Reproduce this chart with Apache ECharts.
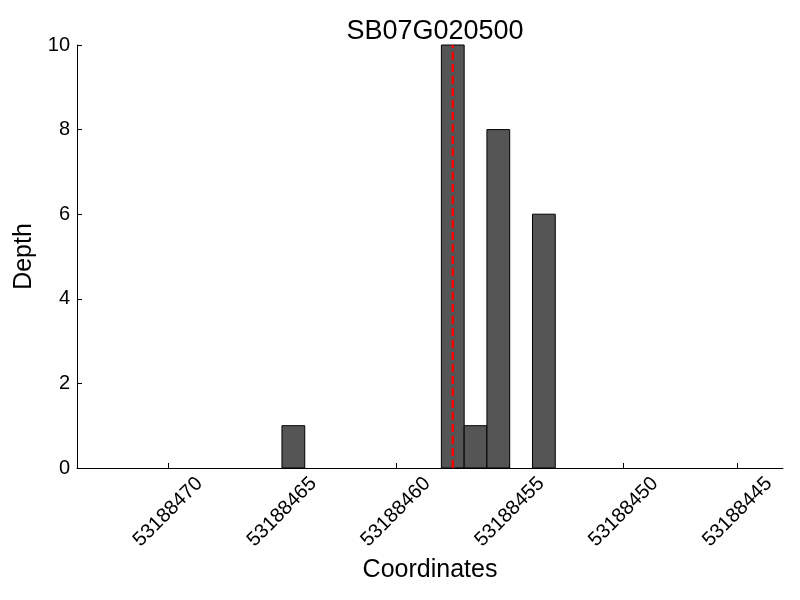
<!DOCTYPE html>
<html>
<head>
<meta charset="utf-8">
<script src="https://cdn.jsdelivr.net/npm/echarts@6/dist/echarts.min.js"></script>
<style>
  html, body { margin: 0; padding: 0; background: #fff; }
</style>
</head>
<body>
<div id="main" style="width: 800px; height: 600px"></div>
<script>
// bar start coordinates (each bar spans one base: start .. start+1)
const positions = [53188464, 53188457, 53188456, 53188455, 53188453];
const depths = [1, 10, 1, 8, 6];
const xTicks = [53188470, 53188465, 53188460, 53188455, 53188450, 53188445];
const markerPos = 53188457.5;
const markerRange = [0, 10];

const font = "Liberation Sans";
const barData = positions.map((p, i) => [p, depths[i]]);

const chart = echarts.init(document.getElementById("main"));

chart.setOption({
  animation: false,
  textStyle: { fontFamily: font },
  title: {
    text: "SB07G020500",
    left: 430,
    top: 13,
    textAlign: "center",
    textStyle: { fontFamily: font, fontSize: 27, fontWeight: "normal", color: "#000" },
  },
  grid: { left: 77, right: 17, top: 45, bottom: 132 },
  xAxis: {
    type: "value",
    inverse: true,
    min: 53188443,
    max: 53188474,
    name: "Coordinates",
    nameLocation: "middle",
    nameGap: 87,
    nameTextStyle: { fontFamily: font, fontSize: 25, color: "#000" },
    axisLine: { show: true, onZero: false, lineStyle: { color: "#000", width: 1 } },
    axisTick: { show: true, inside: true, length: 5, customValues: xTicks, lineStyle: { color: "#000" } },
    axisLabel: {
      customValues: xTicks,
      formatter: (v) => String(v),
      rotate: 45,
      align: "center",
      verticalAlign: "middle",
      margin: 44,
      fontFamily: font,
      fontSize: 20,
      color: "#000",
    },
    splitLine: { show: false },
  },
  yAxis: {
    type: "value",
    min: 0,
    max: 10,
    interval: 2,
    name: "Depth",
    nameLocation: "middle",
    nameGap: 38,
    nameTextStyle: { fontFamily: font, fontSize: 25, color: "#000" },
    axisLine: { show: true, lineStyle: { color: "#000", width: 1 } },
    axisTick: { show: true, inside: true, length: 5, lineStyle: { color: "#000" } },
    axisLabel: { margin: 7, fontFamily: font, fontSize: 20, color: "#000" },
    splitLine: { show: false },
  },
  series: [
    {
      type: "custom",
      data: barData,
      encode: { x: 0, y: 1 },
      renderItem: function (params, api) {
        const x = api.value(0);
        const h = api.value(1);
        const p1 = api.coord([x, 0]);
        const p2 = api.coord([x + 1, h]);
        return {
          type: "rect",
          shape: {
            x: Math.min(p1[0], p2[0]),
            y: p2[1],
            width: Math.abs(p2[0] - p1[0]),
            height: p1[1] - p2[1],
          },
          style: { fill: "#555555", stroke: "#000", lineWidth: 1 },
        };
      },
      z: 2,
    },
    {
      type: "line",
      data: markerRange.map((v) => [markerPos, v]),
      symbol: "none",
      silent: true,
      lineStyle: { color: "#ff0000", width: 2.5, type: [8, 4] },
      z: 3,
    },
  ],
});
</script>
</body>
</html>
